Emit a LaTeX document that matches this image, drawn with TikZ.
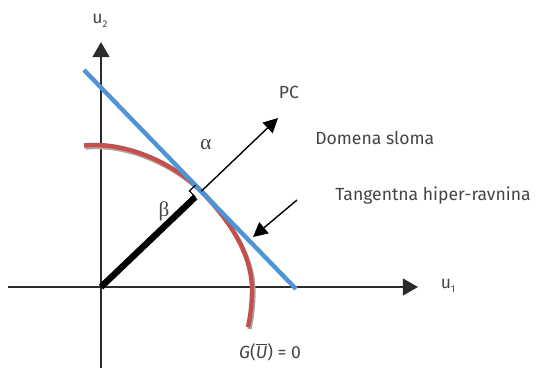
\documentclass[tikz,border=0pt]{standalone}
\usepackage{fontspec}
\setmainfont{Fira Sans}
\newfontfamily\greekfont{Liberation Serif}
\usetikzlibrary{arrows.meta,calc}
\definecolor{myblue}{HTML}{4F95D5}
\definecolor{myred}{HTML}{C4504B}
\definecolor{mygray}{HTML}{A6A6A6}
\definecolor{mytext}{HTML}{454545}
\definecolor{myaxis}{HTML}{2B2B2B}

\begin{document}
\begin{tikzpicture}[x=0.25mm,y=-0.25mm]
			\tikzset{% styles for lines and labels
				axis/.style={draw=myaxis,line width=0.55mm,-{Triangle[length=3.8mm,width=4.2mm]}},
				pointer/.style={draw=black,line width=0.35mm,-{Triangle[length=3.6mm,width=3.6mm]}},
				curve/.style={myred,line width=1.1mm},
				shadow/.style={mygray,line width=1.1mm,transform canvas={xshift=0.35mm,yshift=-0.5mm}},
				label/.style={text=mytext,font=\fontsize{12.5}{14}\selectfont,inner sep=0pt},
				greek/.style={text=mytext,font=\greekfont\fontsize{15}{15}\selectfont,inner sep=0pt}}
			\useasboundingbox (0,0) rectangle (537,368);
			\coordinate (o) at (101,287);
			\coordinate (u1s) at (8,287);
			\coordinate (u1e) at (418,287);
			\coordinate (u2s) at (101,368);
			\coordinate (u2e) at (101,42);
			\coordinate (b1) at (84,70);
			\coordinate (b2) at (296,289);
			\coordinate (pc) at (278,118);
			\coordinate (t1) at (297,200);
			\coordinate (t2) at (253,237);
			\coordinate (f) at (intersection of o--pc and b1--b2);
			\coordinate (r1) at ($(f)!2.1mm!(o)$);
			\coordinate (r3) at ($(f)!2.1mm!(b1)$);
			\coordinate (r2) at ($(r1)+(r3)-(f)$);
			\coordinate (c1) at ($(f)!0.2!(b1)$);
			\coordinate (c2) at ($(f)!0.27!(b2)$);
			\coordinate (g1) at (84,145.5);
			\coordinate (g2) at (252,290);
			\coordinate (g3) at (248,327);
	
			% axes
			\draw[axis] (u1s) -- (u1e);
			\draw[axis] (u2s) -- (u2e);
			% limit state curve
			\draw[shadow] (g1) .. controls (130,141) and (c1) .. (f) .. controls (c2) and (252,252) .. (g2) .. controls (252,305) and (250,318) .. (g3);
			\draw[curve] (g1) .. controls (130,141) and (c1) .. (f) .. controls (c2) and (252,252) .. (g2) .. controls (252,305) and (250,318) .. (g3);
			% tangent plane
			\draw[myblue,line width=1.1mm] (b1) -- (b2);
			% PC direction
			\draw[pointer] (f) -- (pc);
			\draw[black,line width=1.6mm] (o) -- (r1);
			\draw[black,line width=0.3mm] (r1) -- (r2) -- (r3);
			\draw[pointer] (t1) -- (t2);
	
			\node[label] (lu2) at (100,21) {u\raisebox{-0.5ex}{\scriptsize 2}};
			\node[label] (lu1) at (448,286) {u\raisebox{-0.5ex}{\scriptsize 1}};
			\node[label] (lpc) at (289,92) {PC};
			\node[greek] (lal) at (206,145) {α};
			\node[greek] (lbe) at (164,211) {β};
			\node[label,anchor=west] (ldom) at (315,138) {Domena sloma};
			\node[label,anchor=west] (ltan) at (335,196) {Tangentna hiper-ravnina};
			\node[label] (lg) at (270,352) {\textit{G}(\textit{$\overline{\mbox{U}}$}) = 0};
		\end{tikzpicture}
\end{document}
